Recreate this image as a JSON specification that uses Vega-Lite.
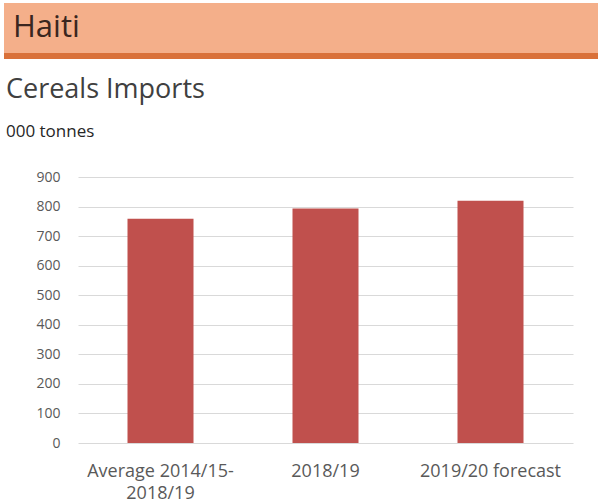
{
  "$schema": "https://vega.github.io/schema/vega-lite/v6.json",
  "padding": {"left": 4, "top": 3, "right": 0, "bottom": 0},
  "background": "white",
  "config": {"font": "Open Sans", "view": {"stroke": null}},
  "datasets": {
    "header": [{"country": "Haiti"}],
    "imports": [
      {"period": "Average 2014/15-2018/19", "imports": 759},
      {"period": "2018/19", "imports": 793},
      {"period": "2019/20 forecast", "imports": 820}
    ]
  },
  "spacing": 174,
  "bounds": "flush",
  "vconcat": [
    {
      "spacing": 0,
      "vconcat": [
        {
          "width": 594,
          "height": 50,
          "view": {"fill": "#F4AF8A", "stroke": null},
          "data": {"name": "header"},
          "mark": {"type": "text", "align": "left", "baseline": "middle", "fontSize": 31, "color": "#3A2620", "dx": 9},
          "encoding": {
            "text": {"field": "country"},
            "x": {"field": "country", "type": "nominal", "bandPosition": 0, "scale": {"type": "band", "paddingInner": 0, "paddingOuter": 0}, "axis": null}
          }
        },
        {
          "width": 594,
          "height": 6,
          "view": {"fill": "#D9713A", "stroke": null},
          "data": {"name": "header"},
          "mark": {"type": "text", "fontSize": 0.1, "opacity": 0},
          "encoding": {"text": {"field": "country"}}
        }
      ]
    },
    {
      "spacing": 0,
      "hconcat": [
        {
          "width": 1,
          "height": 1,
          "data": {"name": "header"},
          "mark": {"type": "text", "fontSize": 0.1, "opacity": 0},
          "encoding": {"text": {"field": "country"}}
        },
        {
          "width": 495,
          "height": 266,
          "title": {
            "text": "Cereals Imports",
            "subtitle": "000 tonnes",
            "anchor": "start",
            "frame": "bounds",
            "fontSize": 27,
            "fontWeight": "normal",
            "color": "#404040",
            "subtitleFontSize": 17,
            "subtitleColor": "#262626",
            "subtitlePadding": 20,
            "offset": 29,
            "dx": -30
          },
          "data": {"name": "imports"},
          "mark": {"type": "bar", "color": "#C0504D"},
          "encoding": {
            "x": {
              "field": "period",
              "type": "nominal",
              "sort": null,
              "scale": {"paddingInner": 0.6, "paddingOuter": 0.3},
              "axis": {
                "title": null,
                "labelAngle": 0,
                "labelFontSize": 18,
                "labelColor": "#595959",
                "ticks": false,
                "domain": false,
                "labelPadding": 19,
                "labelLineHeight": 22,
                "labelExpr": "datum.value == 'Average 2014/15-2018/19' ? ['Average 2014/15-', '2018/19'] : datum.label"
              }
            },
            "y": {
              "field": "imports",
              "type": "quantitative",
              "scale": {"domain": [0, 900], "nice": false},
              "axis": {
                "title": null,
                "values": [0, 100, 200, 300, 400, 500, 600, 700, 800, 900],
                "labelFontSize": 14,
                "labelColor": "#595959",
                "ticks": false,
                "domain": false,
                "labelPadding": 18,
                "gridColor": "#D9D9D9"
              }
            }
          }
        }
      ]
    }
  ]
}
